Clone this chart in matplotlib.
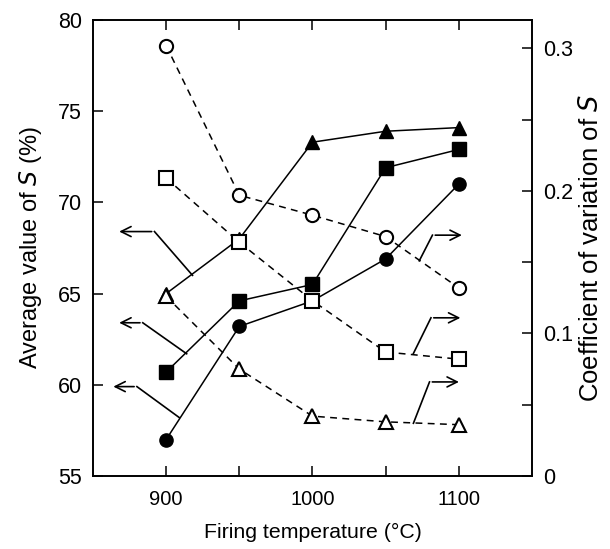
import matplotlib
matplotlib.use("Agg")
import matplotlib.pyplot as plt

plt.rcParams['font.family'] = ['Liberation Sans', 'DejaVu Sans']

# firing temperatures (deg C)
temps = [900, 950, 1000, 1050, 1100]

# average value of S (%), left axis, filled markers
avg_circle = [57.0, 63.2, 64.6, 66.9, 71.0]
avg_square = [60.7, 64.6, 65.5, 71.9, 72.9]
avg_triangle = [65.0, 68.0, 73.3, 73.9, 74.1]

# coefficient of variation of S, right axis, open markers
cv_circle = [0.302, 0.197, 0.183, 0.168, 0.132]
cv_square = [0.209, 0.164, 0.123, 0.087, 0.082]
cv_triangle = [0.126, 0.075, 0.042, 0.038, 0.036]

left_ticks = [55, 60, 65, 70, 75, 80]
right_ticks = [0, 0.1, 0.2, 0.3]
right_labels = ['0', '0.1', '0.2', '0.3']
x_labels = [900, 1000, 1100]

fig = plt.figure(figsize=(6.1, 5.49), dpi=100)
ax = fig.add_axes([0.1525, 0.133, 0.7195, 0.8306])
ax2 = ax.twinx()

lw = 1.1
ms = 9.5
ax.plot(temps, avg_circle, 'k-', marker='o', ms=ms, lw=lw)
ax.plot(temps, avg_square, 'k-', marker='s', ms=ms, lw=lw)
ax.plot(temps, avg_triangle, 'k-', marker='^', ms=ms + 1, lw=lw)

dash = (0, (4.5, 3.5))
ax2.plot(temps, cv_circle, color='k', ls=dash, marker='o', ms=ms, lw=lw,
         mfc='white', mew=1.5)
ax2.plot(temps, cv_square, color='k', ls=dash, marker='s', ms=ms, lw=lw,
         mfc='white', mew=1.5)
ax2.plot(temps, cv_triangle, color='k', ls=dash, marker='^', ms=ms + 1, lw=lw,
         mfc='white', mew=1.5)

ax.set_xlim(850, 1150)
ax.set_ylim(55, 80)
ax2.set_ylim(0, 0.32)

# elbow arrows pointing at the axis each curve belongs to
arrow = dict(arrowstyle='->', color='k', lw=1.2, mutation_scale=18)
left_arrows = [
    [(866, 68.4), (892, 68.4), (918, 66.0)],
    [(866, 63.4), (884, 63.4), (914, 61.7)],
    [(862, 59.9), (880, 59.9), (909, 58.2)],
]
right_arrows = [
    [(1104, 0.169), (1082, 0.169), (1073, 0.151)],
    [(1103, 0.111), (1081, 0.111), (1069, 0.086)],
    [(1102, 0.066), (1080, 0.066), (1069, 0.037)],
]
for tip, elbow, end in left_arrows:
    ax.plot([elbow[0], end[0]], [elbow[1], end[1]], 'k-', lw=1.2)
    ax.annotate('', xy=tip, xytext=elbow, arrowprops=arrow)
for tip, elbow, end in right_arrows:
    ax2.plot([elbow[0], end[0]], [elbow[1], end[1]], 'k-', lw=1.2)
    ax2.annotate('', xy=tip, xytext=elbow, arrowprops=arrow)

fs = 14.5
ax.set_xticks(x_labels)
ax.set_xticklabels([str(v) for v in x_labels])
ax.set_xticks([950, 1050], minor=True)
ax.set_yticks(left_ticks)
ax2.set_yticks(right_ticks)
ax2.set_yticklabels(right_labels)
ax2.set_yticks([0.05, 0.15, 0.25], minor=True)

ax.tick_params(axis='x', which='both', direction='in', top=True, length=7,
               width=1.1, labelsize=fs, pad=10)
ax.tick_params(axis='y', direction='in', length=7, width=1.1, labelsize=15.5,
               pad=8)
ax2.tick_params(axis='y', which='both', direction='in', length=7, width=1.1,
                labelsize=15.5, pad=8)

for a in (ax, ax2):
    for s in a.spines.values():
        s.set_linewidth(1.2)

ax.set_xlabel('Firing temperature (°C)', fontsize=15.3, labelpad=10)
ax.set_ylabel('Average value of $\\mathit{S}$ (%)', fontsize=17,
              labelpad=10)
ax2.set_ylabel('Coefficient of variation of $\\mathit{S}$', fontsize=18.5,
               labelpad=4)

fig.savefig('out.png', dpi=100)
